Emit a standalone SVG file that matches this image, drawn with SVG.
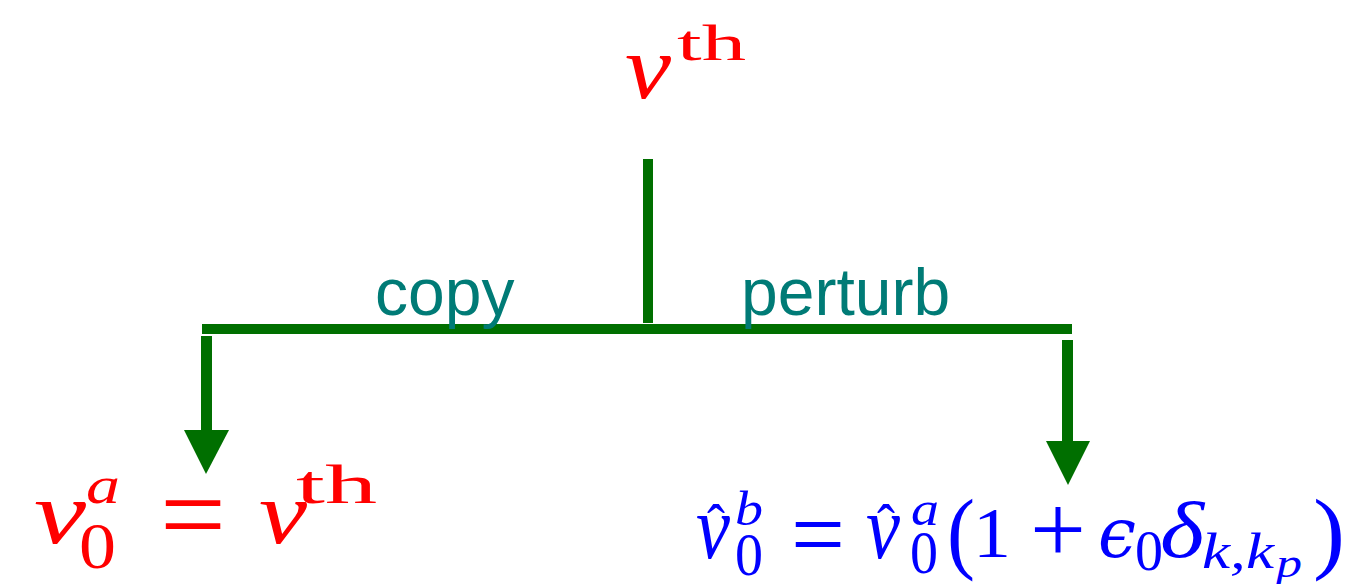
<svg xmlns="http://www.w3.org/2000/svg" width="1356" height="584" viewBox="0 0 1356 584">
<style>
.red{fill:#ff0000}
.blue{fill:#0000ff}
.it{font-family:"Liberation Serif","Times New Roman",serif;font-style:italic}
.rm{font-family:"Liberation Serif","Times New Roman",serif;font-style:normal}
.gr{font-family:"DejaVu Serif",serif;font-style:italic}
.lbl{font-family:"Liberation Sans",Arial,sans-serif;font-size:66px;fill:#007b76}
.ln{fill:#006f00}
</style>
<rect width="1356" height="584" fill="#ffffff"/>
<g id="connectors">
<rect class="ln" x="643" y="159" width="10" height="164"/>
<rect class="ln" x="202" y="324" width="870" height="10"/>
<rect class="ln" x="201" y="336" width="11" height="96"/>
<polygon class="ln" points="184,430 229,430 206,474"/>
<rect class="ln" x="1062" y="340" width="11" height="102"/>
<polygon class="ln" points="1046,441 1090,441 1068,485"/>
</g>
<g id="labels">
<text class="lbl" x="375" y="315">copy</text>
<text class="lbl" x="741" y="315">perturb</text>
</g>
<g id="node-vth" class="red">
<text class="it" x="625" y="98" font-size="90" textLength="46" lengthAdjust="spacingAndGlyphs">v</text>
<text class="rm" x="677" y="60" font-size="50" textLength="69" lengthAdjust="spacingAndGlyphs">th</text>
</g>
<g id="node-copy" class="red">
<text class="it" x="34" y="543" font-size="88" textLength="52" lengthAdjust="spacingAndGlyphs">v</text>
<text class="it" x="86" y="503" font-size="52" textLength="34" lengthAdjust="spacingAndGlyphs">a</text>
<text class="rm" x="79" y="568" font-size="66" textLength="37" lengthAdjust="spacingAndGlyphs">0</text>
<text class="rm" x="160" y="553" font-size="115" textLength="66" lengthAdjust="spacingAndGlyphs">=</text>
<text class="it" x="259" y="543" font-size="88" textLength="48" lengthAdjust="spacingAndGlyphs">v</text>
<text class="rm" x="296" y="503" font-size="55" textLength="81" lengthAdjust="spacingAndGlyphs">th</text>
</g>
<g id="node-perturb" class="blue">
<text class="it" x="696" y="558" font-size="92" textLength="34" lengthAdjust="spacingAndGlyphs">v</text>
<text class="rm" x="707" y="545" font-size="60" textLength="18" lengthAdjust="spacingAndGlyphs">ˆ</text>
<text class="it" x="735" y="525" font-size="48" textLength="28" lengthAdjust="spacingAndGlyphs">b</text>
<text class="rm" x="735" y="575" font-size="62" textLength="28" lengthAdjust="spacingAndGlyphs">0</text>
<text class="rm" x="791" y="568" font-size="100" textLength="54" lengthAdjust="spacingAndGlyphs">=</text>
<text class="it" x="866" y="558" font-size="92" textLength="34" lengthAdjust="spacingAndGlyphs">v</text>
<text class="rm" x="877" y="545" font-size="60" textLength="18" lengthAdjust="spacingAndGlyphs">ˆ</text>
<text class="it" x="911" y="525" font-size="48" textLength="28" lengthAdjust="spacingAndGlyphs">a</text>
<text class="rm" x="910" y="573" font-size="62" textLength="28" lengthAdjust="spacingAndGlyphs">0</text>
<text class="rm" x="947" y="562" font-size="90" textLength="28" lengthAdjust="spacingAndGlyphs">(</text>
<text class="rm" x="973" y="557" font-size="72" textLength="38" lengthAdjust="spacingAndGlyphs">1</text>
<text class="rm" x="1030" y="562" font-size="98" textLength="56" lengthAdjust="spacingAndGlyphs">+</text>
<text class="gr" x="1098" y="557" font-size="70" textLength="38" lengthAdjust="spacingAndGlyphs">ϵ</text>
<text class="rm" x="1135" y="570" font-size="56" textLength="28" lengthAdjust="spacingAndGlyphs">0</text>
<text class="it" x="1160" y="557" font-size="80" textLength="44" lengthAdjust="spacingAndGlyphs">δ</text>
<text class="it" x="1202" y="568" font-size="50" textLength="72" lengthAdjust="spacingAndGlyphs">k,k</text>
<text class="it" x="1276" y="577" font-size="40" textLength="26" lengthAdjust="spacingAndGlyphs">p</text>
<text class="rm" x="1313" y="562" font-size="90" textLength="32" lengthAdjust="spacingAndGlyphs">)</text>
</g>
</svg>
